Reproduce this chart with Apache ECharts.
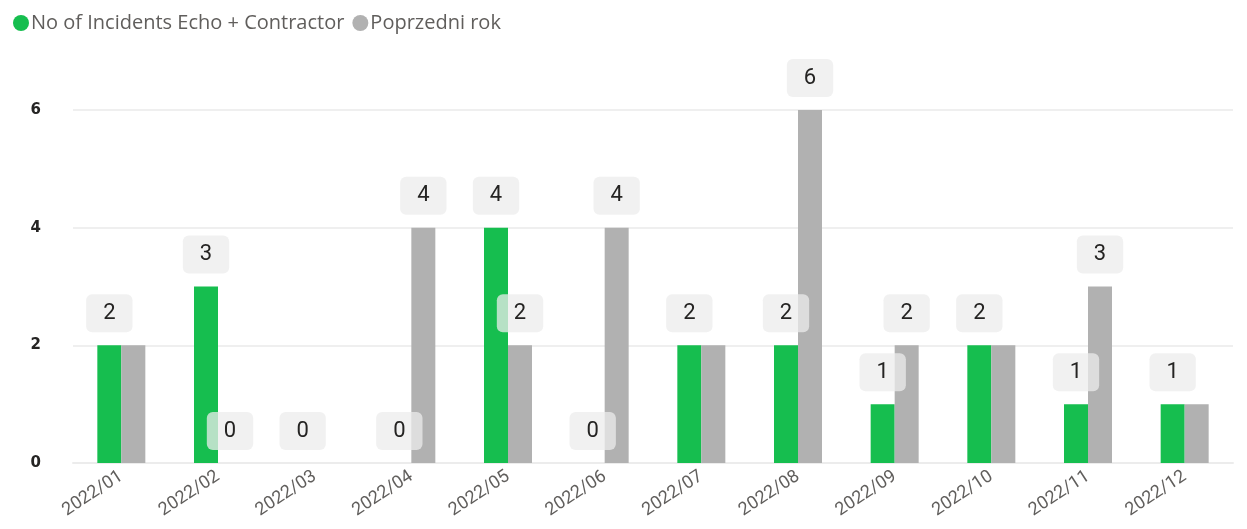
<!DOCTYPE html>
<html>
<head>
<meta charset="utf-8">
<script src="https://cdn.jsdelivr.net/npm/echarts@6/dist/echarts.min.js"></script>
<style>
  html, body { margin: 0; padding: 0; background: #fff; }
  #chart { width: 1247px; height: 529px; }
</style>
</head>
<body>
<div id="chart"></div>
<script>
const months = ['2022/01', '2022/02', '2022/03', '2022/04', '2022/05', '2022/06',
  '2022/07', '2022/08', '2022/09', '2022/10', '2022/11', '2022/12']
const incidents = [2, 3, 0, 0, 4, 0, 2, 2, 1, 2, 1, 1]
const previousYear = [2, 0, 0, 4, 2, 4, 2, 6, 2, 2, 3, 1]
const yTicks = [0, 2, 4, 6]

const chart = echarts.init(document.getElementById('chart'))

// label box shared by both series
const boxLabel = {
  show: true,
  position: 'top',
  distance: 13,
  fontFamily: 'Roboto',
  fontSize: 22,
  color: '#252423',
  backgroundColor: 'rgba(236,236,236,0.75)',
  borderRadius: 6,
  padding: [8, 17, 8, 17]
}

chart.setOption({
  animation: false,
  legend: {
    left: 8,
    top: 8,
    icon: 'circle',
    itemWidth: 16,
    itemHeight: 16,
    itemGap: 8,
    itemStyle: { borderWidth: 0 },
    textStyle: { fontFamily: 'Open Sans', fontSize: 20, color: '#605E5C', padding: [0, 0, 0, -3] },
    data: ['No of Incidents Echo + Contractor', 'Poprzedni rok']
  },
  grid: {
    left: 73,
    right: 14,
    top: 110,
    bottom: 66
  },
  xAxis: {
    type: 'category',
    data: months,
    axisLine: { show: true, lineStyle: { color: '#ECECEC', width: 2 } },
    axisTick: { show: false },
    axisLabel: {
      rotate: 33,
      margin: 12,
      fontFamily: 'Roboto',
      fontSize: 18,
      color: '#605E5C'
    }
  },
  yAxis: {
    type: 'value',
    min: 0,
    max: yTicks[yTicks.length - 1],
    interval: 2,
    axisLine: { show: false },
    axisTick: { show: false },
    axisLabel: {
      margin: 32,
      fontFamily: 'DejaVu Sans',
      fontWeight: 'bold',
      fontSize: 15,
      color: '#252423',
      align: 'right'
    },
    splitLine: { lineStyle: { color: '#EFEFEF', width: 2 } }
  },
  labelLayout: { hideOverlap: true },
  series: [
    {
      name: 'No of Incidents Echo + Contractor',
      type: 'bar',
      data: incidents,
      barWidth: 24,
      barGap: '0%',
      itemStyle: { color: '#16BE4F' },
      label: boxLabel
    },
    {
      name: 'Poprzedni rok',
      type: 'bar',
      data: previousYear,
      barWidth: 24,
      itemStyle: { color: '#B1B1B1' },
      label: boxLabel
    }
  ]
})
</script>
</body>
</html>
